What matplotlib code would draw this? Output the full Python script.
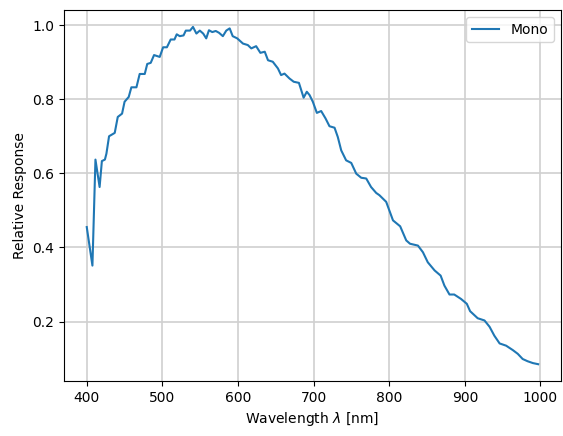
import matplotlib
matplotlib.use("Agg")
import matplotlib.pyplot as plt

# wavelength (nm) and relative response
wavelength = [400, 407.5, 411.5, 417, 420, 424, 426, 429.5, 437, 441, 446.7, 450, 455.5,
              459, 465.7, 470, 476.7, 480, 484.6, 489, 496.5, 501, 506, 511, 516, 519,
              523, 528, 531, 536.6, 540.5, 545, 549.5, 554, 558, 561.6, 566, 570.6, 575,
              580, 584.5, 589, 593, 599, 606.6, 613, 617.6, 624, 629.6, 635.4, 639.7,
              646, 652.8, 657, 661.5, 668, 673.7, 680.6, 686.8, 691, 694.7, 699, 704.3,
              710, 715.8, 721, 727.7, 732, 736.5, 743, 749.8, 756.4, 763, 769.6, 776,
              782.8, 787, 796, 805, 814.5, 822.5, 827.5, 838, 844.6, 851, 860, 868, 873,
              879.7, 886, 895, 902.6, 907, 917, 926, 932.7, 939, 946, 954.6, 963.5, 970,
              976.5, 983, 990, 997]
response = [0.455, 0.351, 0.637, 0.563, 0.633, 0.637, 0.653, 0.700, 0.709, 0.752, 0.761,
            0.793, 0.806, 0.832, 0.832, 0.868, 0.868, 0.895, 0.898, 0.919, 0.914, 0.940,
            0.940, 0.961, 0.961, 0.975, 0.970, 0.972, 0.985, 0.985, 0.995, 0.977, 0.985,
            0.977, 0.964, 0.986, 0.981, 0.984, 0.979, 0.970, 0.985, 0.991, 0.970, 0.964,
            0.950, 0.946, 0.937, 0.943, 0.925, 0.928, 0.905, 0.901, 0.883, 0.865, 0.869,
            0.856, 0.847, 0.844, 0.804, 0.820, 0.811, 0.793, 0.763, 0.768, 0.748, 0.727,
            0.723, 0.698, 0.662, 0.635, 0.628, 0.599, 0.588, 0.586, 0.563, 0.547, 0.541,
            0.523, 0.473, 0.457, 0.419, 0.410, 0.405, 0.387, 0.360, 0.338, 0.324, 0.297,
            0.273, 0.273, 0.261, 0.248, 0.228, 0.209, 0.203, 0.186, 0.162, 0.141, 0.135,
            0.123, 0.113, 0.099, 0.093, 0.088, 0.085]

fig = plt.figure(figsize=(5.63, 4.36), dpi=100)
ax = fig.add_axes([0.114, 0.126, 0.882, 0.851])

ax.plot(wavelength, response, color='#1f77b4', label='Mono')
ax.set_xlabel(r'Wavelength $\lambda$ [nm]')
ax.set_ylabel('Relative Response')
ax.grid(True, color='#d0d0d0', linewidth=1.2)
ax.legend(loc='upper right')

fig.savefig('out.png', dpi=100)
